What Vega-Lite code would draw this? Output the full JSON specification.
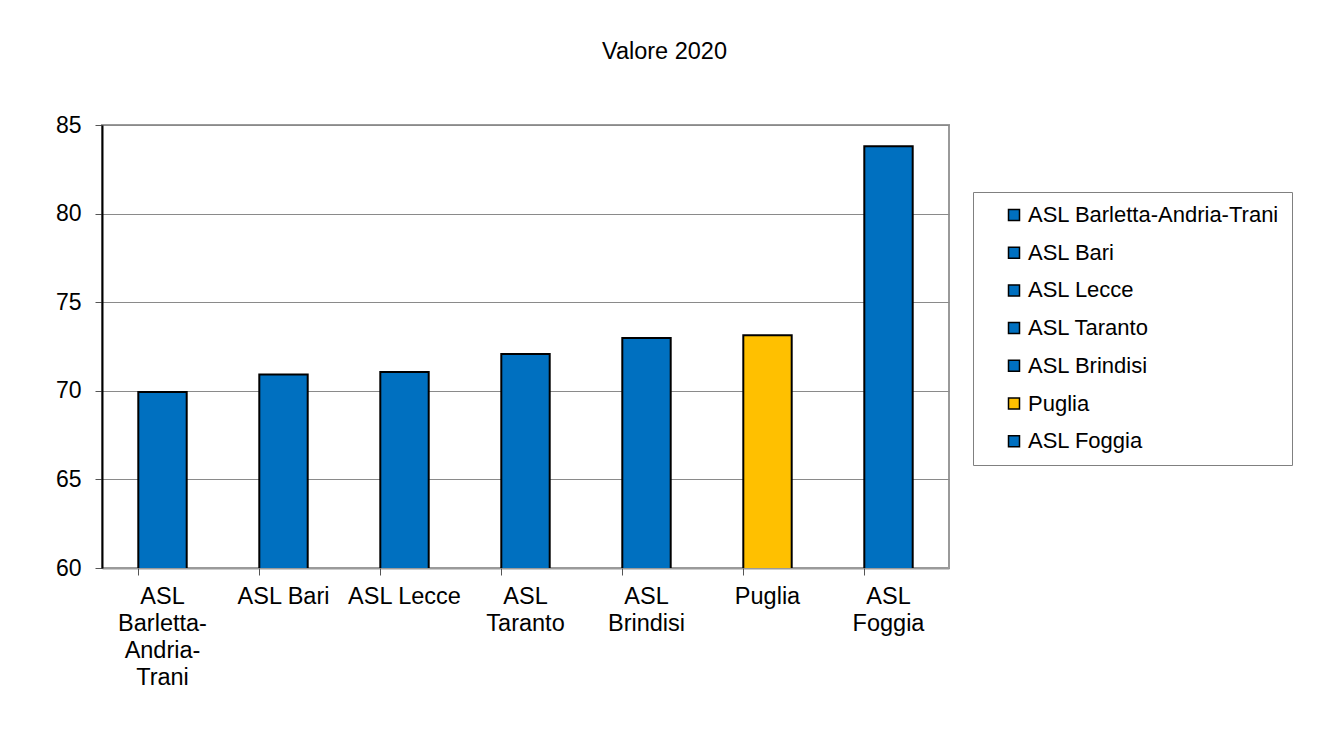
{
  "$schema": "https://vega.github.io/schema/vega-lite/v6.json",
  "autosize": "none",
  "width": 847,
  "height": 443,
  "padding": {"left": 102, "top": 125, "right": 380, "bottom": 163},
  "background": "white",
  "title": {
    "text": "Valore 2020",
    "anchor": "middle",
    "frame": "group",
    "dx": 139,
    "offset": 51,
    "font": "Liberation Sans",
    "fontSize": 23.5,
    "fontWeight": "normal",
    "color": "black"
  },
  "config": {
    "font": "Liberation Sans",
    "view": {"stroke": "#9a9a9a", "strokeWidth": 2}
  },
  "data": {
    "values": [
      {"area": "ASL Barletta-Andria-Trani", "valore": 69.93},
      {"area": "ASL Bari", "valore": 70.92},
      {"area": "ASL Lecce", "valore": 71.06},
      {"area": "ASL Taranto", "valore": 72.08},
      {"area": "ASL Brindisi", "valore": 72.98},
      {"area": "Puglia", "valore": 73.14},
      {"area": "ASL Foggia", "valore": 83.8}
    ]
  },
  "layer": [
    {
      "mark": {"type": "bar", "stroke": "black", "strokeWidth": 2, "clip": true},
      "encoding": {
        "x": {
          "field": "area",
          "type": "nominal",
          "sort": null,
          "scale": {"paddingInner": 0.6, "paddingOuter": 0.3},
          "axis": {
            "title": null,
            "orient": "bottom",
            "labelAngle": 0,
            "labelFontSize": 23.5,
            "labelColor": "black",
            "labelLineHeight": 27,
            "labelPadding": 16,
            "labelLimit": 200,
            "ticks": false,
            "domain": true,
            "domainColor": "#9a9a9a",
            "domainWidth": 2,
            "labelExpr": "datum.label == 'ASL Barletta-Andria-Trani' ? ['ASL', 'Barletta-', 'Andria-', 'Trani'] : datum.label == 'ASL Taranto' ? ['ASL', 'Taranto'] : datum.label == 'ASL Brindisi' ? ['ASL', 'Brindisi'] : datum.label == 'ASL Foggia' ? ['ASL', 'Foggia'] : datum.label"
          }
        },
        "y": {
          "field": "valore",
          "type": "quantitative",
          "scale": {"domain": [60, 85], "zero": false, "nice": false},
          "axis": {
            "title": null,
            "values": [60, 65, 70, 75, 80, 85],
            "labelFontSize": 23,
            "labelColor": "black",
            "labelPadding": 14,
            "tickSize": 7,
            "tickColor": "#555555",
            "domainColor": "black",
            "domainWidth": 2,
            "gridColor": "#8a8a8a",
            "gridWidth": 1,
            "grid": true
          }
        },
        "color": {
          "field": "area",
          "type": "nominal",
          "sort": null,
          "scale": {
            "domain": ["ASL Barletta-Andria-Trani", "ASL Bari", "ASL Lecce", "ASL Taranto", "ASL Brindisi", "Puglia", "ASL Foggia"],
            "range": ["#0070C0", "#0070C0", "#0070C0", "#0070C0", "#0070C0", "#FFC000", "#0070C0"]
          },
          "legend": {
            "title": null,
            "orient": "none",
            "legendX": 871,
            "legendY": 67,
            "symbolType": "square",
            "symbolSize": 121,
            "symbolStrokeColor": "black",
            "symbolStrokeWidth": 1.5,
            "symbolOpacity": 1,
            "symbolOffset": 18,
            "labelOffset": 3,
            "labelFontSize": 22,
            "labelColor": "black",
            "labelLimit": 400,
            "rowPadding": 15.7,
            "padding": 12,
            "strokeColor": "#808080",
            "fillColor": "white"
          }
        }
      }
    },
    {
      "mark": {"type": "bar", "opacity": 0},
      "encoding": {
        "x": {
          "field": "area",
          "type": "nominal",
          "sort": null,
          "axis": {
            "title": null,
            "orient": "bottom",
            "labels": false,
            "domain": false,
            "ticks": true,
            "tickSize": 7,
            "tickColor": "#555555",
            "bandPosition": 0
          }
        },
        "y": {"field": "valore", "type": "quantitative"}
      }
    }
  ],
  "resolve": {"axis": {"x": "independent"}}
}
